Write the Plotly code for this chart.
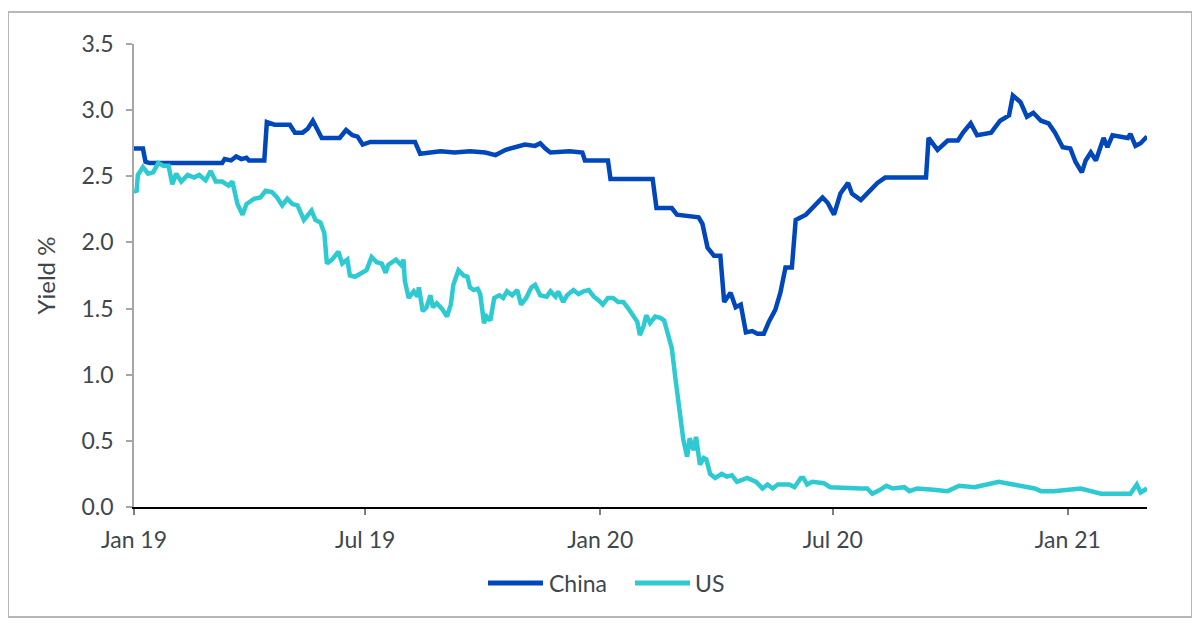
import plotly.graph_objects as go

# China 10y government bond yield (%)
china_dates = [
    "2019-01-01", "2019-01-08", "2019-01-10", "2019-01-13", "2019-03-11", "2019-03-13",
    "2019-03-18", "2019-03-22", "2019-03-26", "2019-03-30", "2019-04-01", "2019-04-13",
    "2019-04-15", "2019-04-21", "2019-05-03", "2019-05-07", "2019-05-13", "2019-05-17",
    "2019-05-21", "2019-05-25", "2019-05-28", "2019-06-11", "2019-06-16", "2019-06-21",
    "2019-06-25", "2019-06-29", "2019-07-05", "2019-08-09", "2019-08-13", "2019-08-21",
    "2019-08-29", "2019-09-09", "2019-09-21", "2019-10-03", "2019-10-11", "2019-10-19",
    "2019-10-26", "2019-11-03", "2019-11-11", "2019-11-15", "2019-11-19", "2019-11-23",
    "2019-12-08", "2019-12-18", "2019-12-20", "2020-01-07", "2020-01-09", "2020-02-11",
    "2020-02-14", "2020-02-26", "2020-03-01", "2020-03-11", "2020-03-18", "2020-03-21",
    "2020-03-25", "2020-03-30", "2020-04-04", "2020-04-07", "2020-04-12", "2020-04-16",
    "2020-04-20", "2020-04-24", "2020-04-29", "2020-05-03", "2020-05-08", "2020-05-12",
    "2020-05-17", "2020-05-21", "2020-05-25", "2020-05-30", "2020-06-02", "2020-06-10",
    "2020-06-16", "2020-06-23", "2020-06-27", "2020-07-02", "2020-07-07", "2020-07-13",
    "2020-07-16", "2020-07-23", "2020-07-29", "2020-08-05", "2020-08-11", "2020-09-12",
    "2020-09-14", "2020-09-21", "2020-09-29", "2020-10-07", "2020-10-11", "2020-10-17",
    "2020-10-22", "2020-11-02", "2020-11-09", "2020-11-16", "2020-11-19", "2020-11-25",
    "2020-11-30", "2020-12-05", "2020-12-11", "2020-12-17", "2020-12-22", "2020-12-28",
    "2021-01-03", "2021-01-07", "2021-01-12", "2021-01-15", "2021-01-19", "2021-01-23",
    "2021-01-29", "2021-02-01", "2021-02-05", "2021-02-17", "2021-02-19", "2021-02-23",
    "2021-02-27", "2021-03-04",
]
china_yield = [
    2.71, 2.71, 2.61, 2.60, 2.60, 2.63,
    2.62, 2.65, 2.63, 2.64, 2.62, 2.62,
    2.91, 2.89, 2.89, 2.83, 2.83, 2.86,
    2.92, 2.85, 2.79, 2.79, 2.85, 2.81,
    2.80, 2.74, 2.76, 2.76, 2.67, 2.68,
    2.69, 2.68, 2.69, 2.68, 2.66, 2.70,
    2.72, 2.74, 2.73, 2.75, 2.71, 2.68,
    2.69, 2.68, 2.62, 2.62, 2.48, 2.48,
    2.26, 2.26, 2.21, 2.20, 2.19, 2.14,
    1.96, 1.90, 1.90, 1.55, 1.62, 1.51,
    1.53, 1.32, 1.33, 1.31, 1.31, 1.40,
    1.49, 1.62, 1.81, 1.81, 2.17, 2.21,
    2.27, 2.34, 2.30, 2.21, 2.37, 2.45,
    2.37, 2.32, 2.38, 2.45, 2.49, 2.49,
    2.79, 2.70, 2.77, 2.77, 2.83, 2.90,
    2.81, 2.83, 2.92, 2.96, 3.11, 3.06,
    2.95, 2.98, 2.92, 2.90, 2.83, 2.72,
    2.71, 2.61, 2.53, 2.62, 2.68, 2.62,
    2.79, 2.72, 2.81, 2.79, 2.82, 2.73,
    2.75, 2.80,
]

# US 10y treasury yield (%)
us_dates = [
    "2019-01-01", "2019-01-03", "2019-01-04", "2019-01-08", "2019-01-12", "2019-01-16",
    "2019-01-20", "2019-01-24", "2019-01-28", "2019-01-31", "2019-02-03", "2019-02-07",
    "2019-02-12", "2019-02-17", "2019-02-21", "2019-02-26", "2019-03-02", "2019-03-06",
    "2019-03-11", "2019-03-16", "2019-03-19", "2019-03-23", "2019-03-27", "2019-03-30",
    "2019-04-05", "2019-04-10", "2019-04-14", "2019-04-19", "2019-04-23", "2019-04-27",
    "2019-05-01", "2019-05-05", "2019-05-09", "2019-05-14", "2019-05-20", "2019-05-23",
    "2019-05-27", "2019-05-30", "2019-06-01", "2019-06-05", "2019-06-10", "2019-06-13",
    "2019-06-17", "2019-06-19", "2019-06-23", "2019-06-28", "2019-07-02", "2019-07-06",
    "2019-07-10", "2019-07-14", "2019-07-17", "2019-07-19", "2019-07-25", "2019-07-29",
    "2019-07-31", "2019-08-01", "2019-08-04", "2019-08-08", "2019-08-11", "2019-08-12",
    "2019-08-15", "2019-08-18", "2019-08-21", "2019-08-23", "2019-08-26", "2019-08-30",
    "2019-09-03", "2019-09-06", "2019-09-08", "2019-09-12", "2019-09-16", "2019-09-19",
    "2019-09-21", "2019-09-24", "2019-09-27", "2019-09-29", "2019-10-02", "2019-10-04",
    "2019-10-07", "2019-10-10", "2019-10-14", "2019-10-17", "2019-10-20", "2019-10-24",
    "2019-10-28", "2019-10-31", "2019-11-04", "2019-11-08", "2019-11-11", "2019-11-15",
    "2019-11-20", "2019-11-23", "2019-11-27", "2019-11-29", "2019-12-03", "2019-12-06",
    "2019-12-11", "2019-12-15", "2019-12-19", "2019-12-23", "2019-12-27", "2019-12-31",
    "2020-01-03", "2020-01-07", "2020-01-11", "2020-01-15", "2020-01-19", "2020-01-23",
    "2020-01-27", "2020-01-30", "2020-02-01", "2020-02-04", "2020-02-06", "2020-02-09",
    "2020-02-13", "2020-02-17", "2020-02-20", "2020-02-22", "2020-02-26", "2020-02-29",
    "2020-03-02", "2020-03-03", "2020-03-06", "2020-03-09", "2020-03-11", "2020-03-14",
    "2020-03-16", "2020-03-19", "2020-03-22", "2020-03-24", "2020-03-27", "2020-03-31",
    "2020-04-05", "2020-04-09", "2020-04-13", "2020-04-17", "2020-04-25", "2020-05-02",
    "2020-05-07", "2020-05-11", "2020-05-15", "2020-05-19", "2020-05-28", "2020-06-01",
    "2020-06-06", "2020-06-08", "2020-06-11", "2020-06-15", "2020-06-24", "2020-06-29",
    "2020-07-12", "2020-07-23", "2020-07-28", "2020-08-01", "2020-08-07", "2020-08-12",
    "2020-08-17", "2020-08-26", "2020-08-30", "2020-09-05", "2020-09-18", "2020-09-29",
    "2020-10-08", "2020-10-20", "2020-11-03", "2020-11-08", "2020-11-14", "2020-11-25",
    "2020-12-06", "2020-12-11", "2020-12-21", "2021-01-11", "2021-01-20", "2021-01-27",
    "2021-02-10", "2021-02-19", "2021-02-24", "2021-02-27", "2021-03-04",
]
us_yield = [
    2.40, 2.38, 2.51, 2.57, 2.52, 2.53,
    2.60, 2.58, 2.58, 2.44, 2.52, 2.46,
    2.51, 2.49, 2.51, 2.47, 2.54, 2.46,
    2.46, 2.43, 2.46, 2.29, 2.21, 2.29,
    2.33, 2.34, 2.39, 2.38, 2.34, 2.28,
    2.33, 2.29, 2.28, 2.17, 2.24, 2.17,
    2.15, 2.07, 1.84, 1.87, 1.93, 1.84,
    1.87, 1.75, 1.74, 1.77, 1.79, 1.89,
    1.85, 1.84, 1.77, 1.83, 1.87, 1.83,
    1.87, 1.71, 1.58, 1.63, 1.59, 1.66,
    1.48, 1.51, 1.60, 1.51, 1.54, 1.50,
    1.44, 1.53, 1.68, 1.79, 1.75, 1.74,
    1.66, 1.64, 1.65, 1.61, 1.39, 1.44,
    1.41, 1.58, 1.60, 1.58, 1.63, 1.60,
    1.64, 1.53, 1.58, 1.66, 1.68, 1.60,
    1.59, 1.63, 1.59, 1.63, 1.55, 1.60,
    1.64, 1.61, 1.63, 1.64, 1.59, 1.56,
    1.53, 1.58, 1.58, 1.55, 1.55, 1.50,
    1.45, 1.40, 1.30, 1.37, 1.45, 1.39,
    1.44, 1.43, 1.41, 1.34, 1.20, 0.96,
    0.81, 0.68, 0.51, 0.38, 0.52, 0.43,
    0.53, 0.32, 0.37, 0.36, 0.25, 0.22,
    0.25, 0.23, 0.24, 0.19, 0.22, 0.19,
    0.14, 0.17, 0.14, 0.17, 0.17, 0.15,
    0.22, 0.22, 0.17, 0.19, 0.18, 0.15,
    0.14, 0.14, 0.14, 0.10, 0.13, 0.16,
    0.14, 0.15, 0.12, 0.14, 0.13, 0.12,
    0.16, 0.15, 0.18, 0.19, 0.18, 0.16,
    0.14, 0.12, 0.12, 0.14, 0.12, 0.10,
    0.10, 0.10, 0.17, 0.11, 0.14,
]

series_names = ["China", "US"]
x_ticks = ["2019-01-01", "2019-07-01", "2020-01-01", "2020-07-01", "2021-01-01"]
x_tick_labels = ["Jan 19", "Jul 19", "Jan 20", "Jul 20", "Jan 21"]
y_ticks = [0.0, 0.5, 1.0, 1.5, 2.0, 2.5, 3.0, 3.5]

CHINA_COLOR = "#0047BB"
US_COLOR = "#2DCAD2"
TEXT_COLOR = "#3F474D"
FONT = "Lato, 'Open Sans', sans-serif"
FS = 23

fig = go.Figure()
fig.add_trace(go.Scatter(x=china_dates, y=china_yield, mode="lines", name=series_names[0],
                         line=dict(color=CHINA_COLOR, width=4.5)))
fig.add_trace(go.Scatter(x=us_dates, y=us_yield, mode="lines", name=series_names[1],
                         line=dict(color=US_COLOR, width=4.5)))

# page has an 8px body margin, so figure coords = screen coords - 8
W, H = 1184, 611
L, R, T, B = 126, 1139, 36, 499
pw, ph = R - L, B - T


def px(x):
    return (x - L) / pw


def py(y):
    return (B - y) / ph


# hand-drawn legend (longer line samples than plotly's own legend)
legend_y = 575
legend_items = [(series_names[0], CHINA_COLOR, 480, 535, 539),
                (series_names[1], US_COLOR, 627, 682, 685)]
shapes = [dict(type="rect", xref="paper", yref="paper",
               x0=px(0), x1=px(1184), y0=py(609), y1=py(4),
               line=dict(color="#B4B8BC", width=2), layer="below")]
annotations = [dict(text="Yield %", xref="paper", yref="paper",
                    x=px(37), y=py((T + B) / 2), textangle=-90, showarrow=False,
                    xanchor="center", yanchor="middle",
                    font=dict(size=24, color=TEXT_COLOR))]
for name, color, x0, x1, tx in legend_items:
    shapes.append(dict(type="line", xref="paper", yref="paper",
                       x0=px(x0), x1=px(x1), y0=py(legend_y), y1=py(legend_y),
                       line=dict(color=color, width=5)))
    annotations.append(dict(text=name, xref="paper", yref="paper",
                            x=px(tx), y=py(legend_y), showarrow=False,
                            xanchor="left", yanchor="middle",
                            font=dict(size=FS, color=TEXT_COLOR)))

fig.update_layout(
    width=W, height=H,
    margin=dict(l=L, r=W - R, t=T, b=H - B),
    paper_bgcolor="white", plot_bgcolor="white",
    font=dict(family=FONT, size=FS, color=TEXT_COLOR),
    showlegend=False,
    xaxis=dict(
        type="date", range=["2019-01-01", "2021-03-04"],
        tickvals=x_ticks, ticktext=x_tick_labels,
        showgrid=False, zeroline=False,
        showline=True, linecolor="#000000", linewidth=1.5,
        ticks="outside", ticklen=6, tickcolor="#7F7F7F", tickwidth=1.5,
        tickfont=dict(size=FS, color=TEXT_COLOR), ticklabelstandoff=6,
    ),
    yaxis=dict(
        range=[0, 3.5], tickvals=y_ticks, tickformat=".1f",
        showgrid=False, zeroline=False,
        showline=True, linecolor="#A6A6A6", linewidth=1.5,
        ticks="outside", ticklen=6, tickcolor="#A6A6A6", tickwidth=1.5,
        tickfont=dict(size=FS, color=TEXT_COLOR), ticklabelstandoff=8,
    ),
    shapes=shapes,
    annotations=annotations,
)

fig.write_html("out.html")
